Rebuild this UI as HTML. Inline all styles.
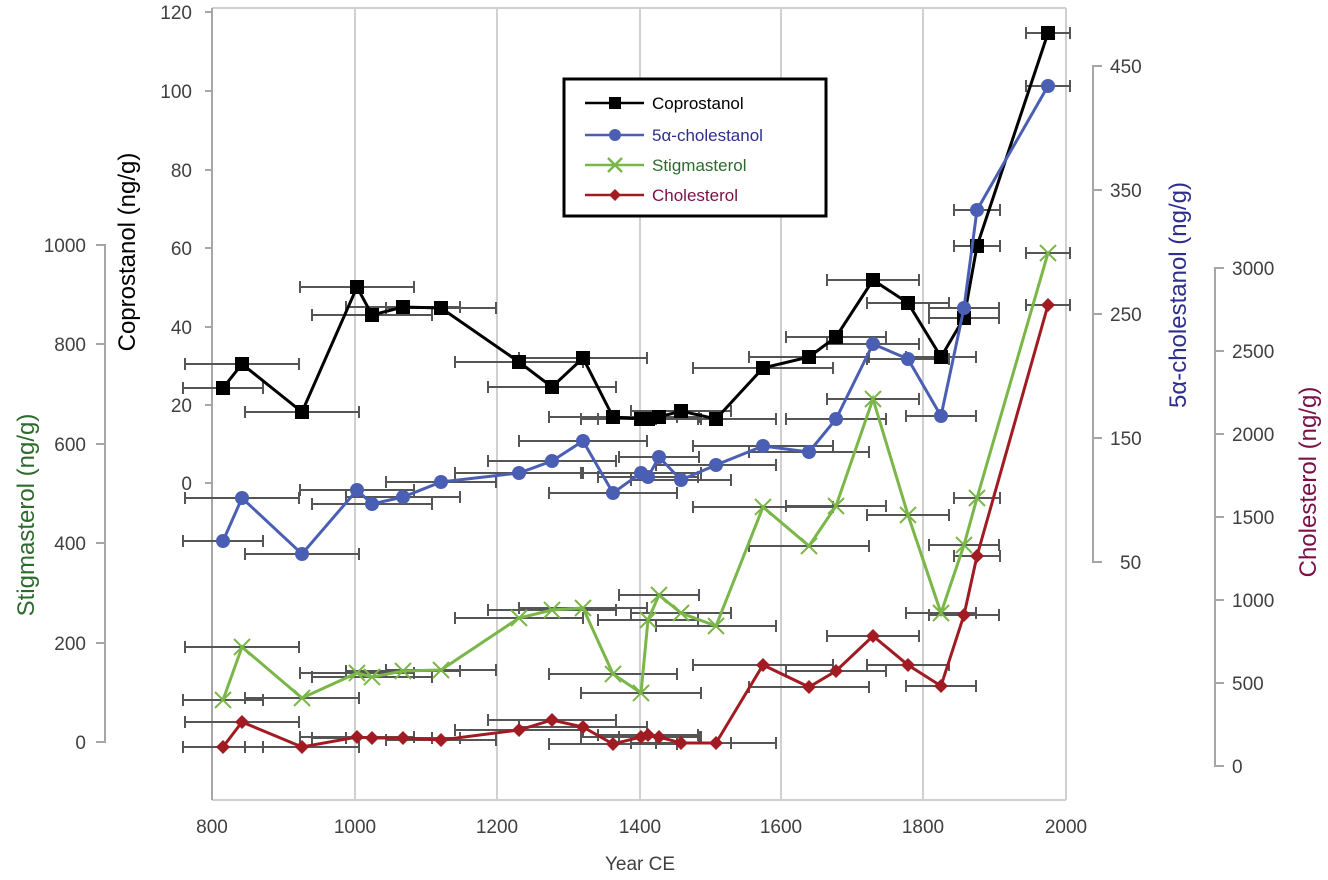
<!DOCTYPE html>
<html><head><meta charset="utf-8"><style>
html,body{margin:0;padding:0;background:#fff;}
svg{display:block;font-family:"Liberation Sans",Arial,sans-serif;}
</style></head><body>
<svg id="s" width="1328" height="880" viewBox="0 0 1328 880" xmlns="http://www.w3.org/2000/svg">
<g stroke="#d0d0d0" stroke-width="2" fill="none">
<line x1="355" y1="8" x2="355" y2="800"/><line x1="497" y1="8" x2="497" y2="800"/>
<line x1="640" y1="8" x2="640" y2="800"/><line x1="781" y1="8" x2="781" y2="800"/>
<line x1="923" y1="8" x2="923" y2="800"/>
<line x1="212" y1="8" x2="1066" y2="8"/><line x1="1066" y1="8" x2="1066" y2="800"/>
<line x1="212" y1="800" x2="1066" y2="800"/>
</g>
<g stroke="#a6a6a6" stroke-width="2" fill="none">
<line x1="212" y1="8" x2="212" y2="800"/>
<path d="M205 12H212M205 91H212M205 170H212M205 248H212M205 327H212M205 405H212M205 483H212"/>
<path d="M96 245H105V742H96M96 344H105M96 444H105M96 543H105M96 643H105"/>
<path d="M1102 66H1093V562H1102M1093 190H1102M1093 314H1102M1093 438H1102"/>
<path d="M1224 268H1215V766H1224M1215 351H1224M1215 434H1224M1215 517H1224M1215 600H1224M1215 683H1224"/>
</g>
<g font-size="19" fill="#404040" text-anchor="end">
<text x="192" y="19">120</text><text x="192" y="98">100</text><text x="192" y="177">80</text>
<text x="192" y="255">60</text><text x="192" y="334">40</text><text x="192" y="412">20</text><text x="192" y="490">0</text>
<text x="86" y="252">1000</text><text x="86" y="351">800</text><text x="86" y="451">600</text>
<text x="86" y="550">400</text><text x="86" y="650">200</text><text x="86" y="749">0</text>
</g>
<g font-size="19" fill="#404040" text-anchor="start">
<text x="1110" y="73">450</text><text x="1110" y="197">350</text><text x="1110" y="321">250</text>
<text x="1110" y="445">150</text><text x="1120" y="569">50</text>
<text x="1232" y="275">3000</text><text x="1232" y="358">2500</text><text x="1232" y="441">2000</text>
<text x="1232" y="524">1500</text><text x="1232" y="607">1000</text><text x="1232" y="690">500</text><text x="1232" y="773">0</text>
</g>
<g font-size="19" fill="#404040" text-anchor="middle">
<text x="212" y="833">800</text><text x="355" y="833">1000</text><text x="497" y="833">1200</text>
<text x="640" y="833">1400</text><text x="781" y="833">1600</text><text x="923" y="833">1800</text><text x="1066" y="833">2000</text>
<text x="640" y="870">Year CE</text>
</g>
<g font-size="24" text-anchor="middle">
<text transform="translate(135,252) rotate(-90)" fill="#000">Coprostanol (ng/g)</text>
<text transform="translate(34,515) rotate(-90)" fill="#2d6a2d">Stigmasterol (ng/g)</text>
<text transform="translate(1186,295) rotate(-90)" fill="#2e2e8c">5α-cholestanol (ng/g)</text>
<text transform="translate(1316,482) rotate(-90)" fill="#7a1046">Cholesterol (ng/g)</text>
</g>
<g id="data"></g>
<rect x="564" y="79" width="262" height="137" fill="#fff" stroke="#000" stroke-width="3"/>
<g stroke-width="2.5">
<line x1="585" y1="103" x2="644" y2="103" stroke="#000"/><rect x="609" y="97" width="12" height="12" fill="#000"/>
<line x1="585" y1="135" x2="644" y2="135" stroke="#4a5fb4"/><circle cx="615" cy="135" r="6" fill="#4a5fb4"/>
<line x1="585" y1="165" x2="644" y2="165" stroke="#7ab648"/><path d="M608 158L622 172M622 158L608 172" stroke="#7ab648"/>
<line x1="585" y1="195" x2="644" y2="195" stroke="#a01c22"/><path d="M615 189L621 195L615 201L609 195Z" fill="#a01c22"/>
</g>
<g font-size="17">
<text x="652" y="109" fill="#000">Coprostanol</text>
<text x="652" y="141" fill="#2e2e8c">5α-cholestanol</text>
<text x="652" y="171" fill="#2d6a2d">Stigmasterol</text>
<text x="652" y="201" fill="#7a1046">Cholesterol</text>
</g>
</svg>
<script>
var X=[223,242,302,357,372,403,441,519,552,583,613,641,648,659,681,716,763,809,836,873,908,941,964,977,1048];
var H=[40,57,57,57,60,57,55,64,64,64,64,60,50,40,50,60,70,60,50,46,41,35,35,23,22];
var S=[
{c:"#000",m:"sq",y:[388,364,412,287,315,307,308,362,387,358,417,419,419,417,411,419,368,357,337,280,303,357,318,246,33]},
{c:"#4a5fb4",m:"ci",y:[541,498,554,490,504,497,482,473,461,441,493,473,477,457,480,465,446,452,419,344,359,416,308,210,86]},
{c:"#7ab648",m:"x",y:[700,647,698,673,677,671,670,618,610,608,674,693,620,595,613,626,507,546,506,399,515,613,545,498,253]},
{c:"#a01c22",m:"di",y:[747,722,747,737,738,738,740,730,720,727,744,737,735,737,743,743,665,687,671,636,665,686,615,556,305]}];
var o="";
S.forEach(function(s){for(var i=0;i<X.length;i++){var a=Math.max(X[i]-H[i],170),b=X[i]+H[i],y=s.y[i];
o+='<path d="M'+a+' '+y+'H'+b+'M'+a+' '+(y-6)+'V'+(y+6)+'M'+b+' '+(y-6)+'V'+(y+6)+'" stroke="#555" stroke-width="2" fill="none"/>';}});
S.forEach(function(s){var p="";for(var i=0;i<X.length;i++)p+=(i?"L":"M")+X[i]+" "+s.y[i];
o+='<path d="'+p+'" stroke="'+s.c+'" stroke-width="3" fill="none"/>';
for(var i=0;i<X.length;i++){var x=X[i],y=s.y[i];
if(s.m=="sq")o+='<rect x="'+(x-7)+'" y="'+(y-7)+'" width="14" height="14" fill="#000"/>';
else if(s.m=="ci")o+='<circle cx="'+x+'" cy="'+y+'" r="7" fill="'+s.c+'"/>';
else if(s.m=="x")o+='<path d="M'+(x-8)+' '+(y-8)+'L'+(x+8)+' '+(y+8)+'M'+(x+8)+' '+(y-8)+'L'+(x-8)+' '+(y+8)+'" stroke="'+s.c+'" stroke-width="2"/>';
else o+='<path d="M'+x+' '+(y-7)+'L'+(x+7)+' '+y+'L'+x+' '+(y+7)+'L'+(x-7)+' '+y+'Z" fill="'+s.c+'"/>';}});
document.getElementById("data").innerHTML=o;
</script>
</body></html>
